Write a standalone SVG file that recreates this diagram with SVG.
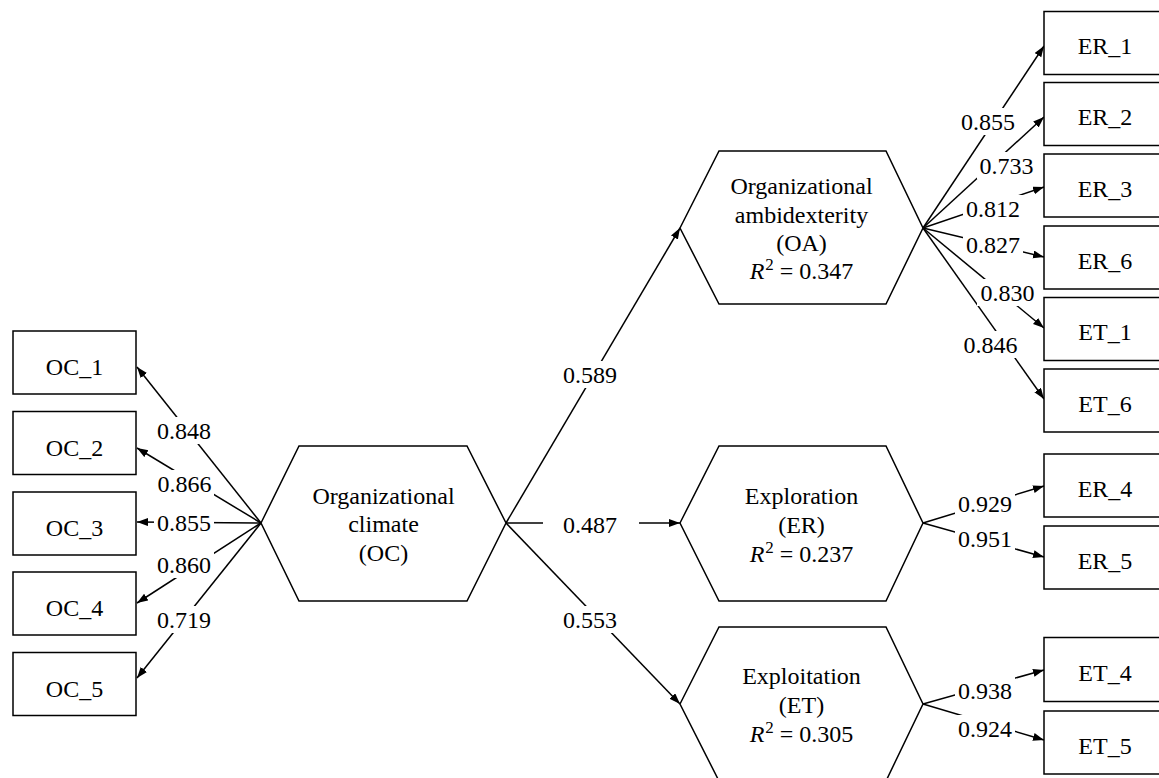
<svg xmlns="http://www.w3.org/2000/svg" width="1159" height="778" viewBox="0 0 1159 778">
<style>
.t{font-family:"Liberation Serif","Times New Roman",serif;font-size:24px;fill:#000;text-anchor:middle}
.box{fill:#fff;stroke:#000;stroke-width:1.5}
.hex{fill:#fff;stroke:#000;stroke-width:1.5}
.c line{stroke:#000;stroke-width:1.5;marker-end:url(#ah)}
.lb{fill:#fff}
.sup{font-size:17px}
</style>
<defs>
<marker id="ah" markerUnits="userSpaceOnUse" markerWidth="13" markerHeight="9" refX="11" refY="4" orient="auto">
<path d="M0,0 L11,4 L0,8 z" fill="#000"/>
</marker>
</defs>
<rect width="1159" height="778" fill="#fff"/>
<g id="connectors" class="c">
<line x1="261" y1="523" x2="137" y2="367"/>
<line x1="261" y1="523" x2="137" y2="448"/>
<line x1="261" y1="523" x2="137" y2="522"/>
<line x1="261" y1="523" x2="137" y2="603"/>
<line x1="261" y1="523" x2="137" y2="678"/>
<line x1="506" y1="523" x2="680" y2="228"/>
<line x1="506" y1="523" x2="680" y2="523"/>
<line x1="506" y1="523" x2="680" y2="704"/>
<line x1="923" y1="228" x2="1044" y2="46"/>
<line x1="923" y1="228" x2="1044" y2="117"/>
<line x1="923" y1="228" x2="1044" y2="187"/>
<line x1="923" y1="228" x2="1044" y2="257"/>
<line x1="923" y1="228" x2="1044" y2="328"/>
<line x1="923" y1="228" x2="1044" y2="399"/>
<line x1="923" y1="523" x2="1044" y2="486"/>
<line x1="923" y1="523" x2="1044" y2="557"/>
<line x1="923" y1="704" x2="1044" y2="670"/>
<line x1="923" y1="704" x2="1044" y2="740"/>
</g>
<g id="labels">
<rect class="lb" x="154" y="417" width="60" height="27"/><text class="t" x="184" y="439">0.848</text>
<rect class="lb" x="154" y="470" width="60" height="27"/><text class="t" x="184.5" y="492">0.866</text>
<rect class="lb" x="154" y="509" width="60" height="27"/><text class="t" x="184" y="531">0.855</text>
<rect class="lb" x="154" y="551" width="60" height="27"/><text class="t" x="184" y="573">0.860</text>
<rect class="lb" x="154" y="606" width="60" height="27"/><text class="t" x="184" y="628">0.719</text>
<rect class="lb" x="560" y="361" width="60" height="27"/><text class="t" x="590" y="383">0.589</text>
<rect class="lb" x="543" y="511" width="96" height="27"/><text class="t" x="590" y="533">0.487</text>
<rect class="lb" x="560" y="606" width="60" height="27"/><text class="t" x="590" y="628">0.553</text>
<rect class="lb" x="958" y="108" width="60" height="27"/><text class="t" x="988" y="130">0.855</text>
<rect class="lb" x="977" y="152" width="60" height="27"/><text class="t" x="1006.5" y="174">0.733</text>
<rect class="lb" x="963" y="195" width="60" height="27"/><text class="t" x="993" y="217">0.812</text>
<rect class="lb" x="963" y="231" width="60" height="27"/><text class="t" x="993" y="253">0.827</text>
<rect class="lb" x="977" y="279" width="60" height="27"/><text class="t" x="1007.5" y="301">0.830</text>
<rect class="lb" x="961" y="331" width="60" height="27"/><text class="t" x="990.5" y="353">0.846</text>
<rect class="lb" x="955" y="490" width="60" height="27"/><text class="t" x="985" y="512">0.929</text>
<rect class="lb" x="955" y="525" width="60" height="27"/><text class="t" x="985" y="547">0.951</text>
<rect class="lb" x="955" y="677" width="60" height="27"/><text class="t" x="985" y="699">0.938</text>
<rect class="lb" x="955" y="715" width="60" height="27"/><text class="t" x="985" y="737">0.924</text>
</g>
<g id="OC_1"><rect class="box" x="13" y="331" width="123" height="63"/><text class="t" x="74.5" y="375">OC_1</text></g>
<g id="OC_2"><rect class="box" x="13" y="411.5" width="123" height="63"/><text class="t" x="74.5" y="455.5">OC_2</text></g>
<g id="OC_3"><rect class="box" x="13" y="492" width="123" height="63"/><text class="t" x="74.5" y="536">OC_3</text></g>
<g id="OC_4"><rect class="box" x="13" y="572" width="123" height="63"/><text class="t" x="74.5" y="616">OC_4</text></g>
<g id="OC_5"><rect class="box" x="13" y="652.5" width="123" height="63"/><text class="t" x="74.5" y="696.5">OC_5</text></g>
<g id="OC"><polygon class="hex" points="261,523 299,446 467,446 506,523 467,601 299,601"/>
<text class="t" x="383.5" y="504">Organizational</text>
<text class="t" x="383.5" y="532">climate</text>
<text class="t" x="383.5" y="561">(OC)</text></g>
<g id="OA"><polygon class="hex" points="680,228 719,151 886,151 923,228 886,304 719,304"/>
<text class="t" x="801.5" y="194">Organizational</text>
<text class="t" x="801.5" y="223">ambidexterity</text>
<text class="t" x="801.5" y="251">(OA)</text>
<text class="t" x="801.5" y="279"><tspan font-style="italic">R</tspan><tspan class="sup" dx="1" dy="-9">2</tspan><tspan dy="9"> = 0.347</tspan></text></g>
<g id="ER"><polygon class="hex" points="680,523 719,446 886,446 923,523 886,601 719,601"/>
<text class="t" x="801.5" y="504">Exploration</text>
<text class="t" x="801.5" y="533">(ER)</text>
<text class="t" x="801.5" y="562"><tspan font-style="italic">R</tspan><tspan class="sup" dx="1" dy="-9">2</tspan><tspan dy="9"> = 0.237</tspan></text></g>
<g id="ET"><polygon class="hex" points="680,704 719,627 886,627 923,704 886,781 719,781"/>
<text class="t" x="801.5" y="684">Exploitation</text>
<text class="t" x="801.5" y="713">(ET)</text>
<text class="t" x="801.5" y="742"><tspan font-style="italic">R</tspan><tspan class="sup" dx="1" dy="-9">2</tspan><tspan dy="9"> = 0.305</tspan></text></g>
<g id="ER_1"><rect class="box" x="1044" y="11.5" width="123" height="63"/><text class="t" x="1105" y="54">ER_1</text></g>
<g id="ER_2"><rect class="box" x="1044" y="82.5" width="123" height="63"/><text class="t" x="1105" y="125">ER_2</text></g>
<g id="ER_3"><rect class="box" x="1044" y="154" width="123" height="63"/><text class="t" x="1105" y="196.5">ER_3</text></g>
<g id="ER_6"><rect class="box" x="1044" y="226" width="123" height="63"/><text class="t" x="1105" y="268.5">ER_6</text></g>
<g id="ET_1"><rect class="box" x="1044" y="297.5" width="123" height="63"/><text class="t" x="1105" y="340">ET_1</text></g>
<g id="ET_6"><rect class="box" x="1044" y="369" width="123" height="63"/><text class="t" x="1105" y="411.5">ET_6</text></g>
<g id="ER_4"><rect class="box" x="1044" y="454" width="123" height="63"/><text class="t" x="1105" y="496.5">ER_4</text></g>
<g id="ER_5"><rect class="box" x="1044" y="526" width="123" height="63"/><text class="t" x="1105" y="568.5">ER_5</text></g>
<g id="ET_4"><rect class="box" x="1044" y="637.5" width="123" height="64"/><text class="t" x="1105" y="680.5">ET_4</text></g>
<g id="ET_5"><rect class="box" x="1044" y="711" width="123" height="63"/><text class="t" x="1105" y="753.5">ET_5</text></g>
</svg>
